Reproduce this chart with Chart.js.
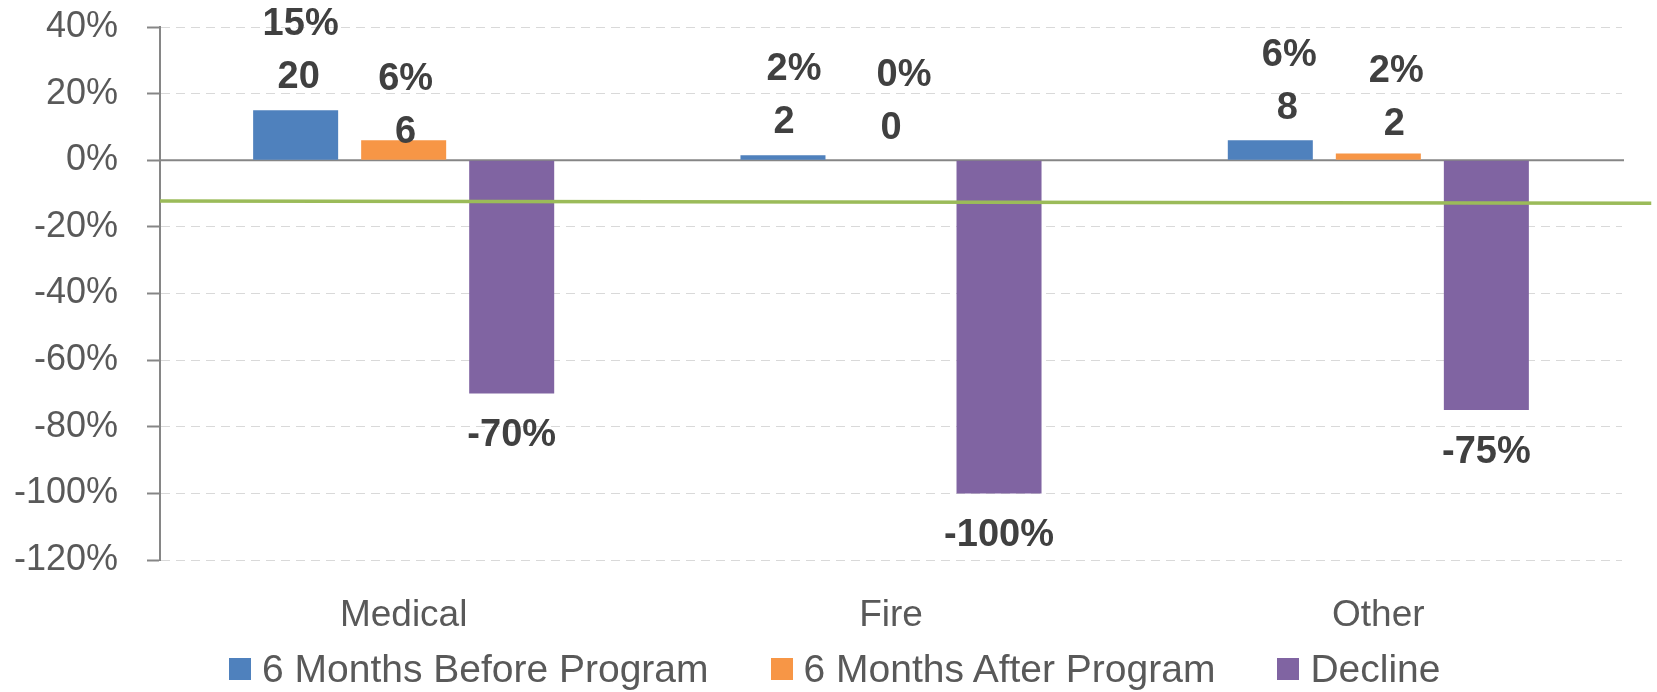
<!DOCTYPE html>
<html>
<head>
<meta charset="utf-8">
<script src="https://cdn.jsdelivr.net/npm/chart.js@4/dist/chart.umd.min.js"></script>
<style>
  html, body { margin: 0; padding: 0; background: #fff; }
  #wrap { position: relative; width: 1657px; height: 692px; }
  #legend {
    position: absolute; left: 229px; top: 646px; height: 46px;
    display: flex; align-items: center;
    font: 39px "Liberation Sans", Arial, sans-serif; color: #595959;
    white-space: nowrap;
  }
  #legend .item { display: flex; align-items: center; margin-right: 62px; }
  #legend .box { width: 22px; height: 22px; margin-right: 11px; }
</style>
</head>
<body>
<div id="wrap">
  <canvas id="chart" width="1657" height="692"></canvas>
  <div id="legend"></div>
</div>
<script>
const categories = ["Medical", "Fire", "Other"];
const seriesNames = ["6 Months Before Program", "6 Months After Program", "Decline"];
const seriesColors = ["#4f81bd", "#f79646", "#8064a2"];

// share of calls (%) and raw counts
const beforePct = [15, 1.5, 6];
const beforeCount = [20, 2, 8];
const afterPct = [6, 0, 2];
const afterCount = [6, 0, 2];
const declinePct = [-70, -100, -75];

// flat green line, runs from the left edge of the plot a bit past the right one
const trendX = [-0.5, 2.56];
const trendY = [-12.2, -12.9];

const yTicks = { min: -120, max: 40, step: 20 };

// label placement: count line sits `lift` px above the bar top, % line 53px above that;
// Excel labels were dragged around a bit, hence the small per-label shifts
const beforeLift = [33, 33, 32];
const afterLift = [8, 32, 29];
const beforeShift = { pct: [5, 11, 19], count: [3, 1, 17] };
const afterShift = { pct: [2, 13, 18], count: [2, 0, 16] };

const FONT = '"Liberation Sans", Arial, sans-serif';
const GRAY_AXIS = "#868686";

const asPoints = (vals) => vals.map((y, i) => ({ x: i, y }));

const zeroLine = {
  id: "zeroLine",
  beforeDatasetsDraw(chart) {
    const { ctx, chartArea } = chart;
    const y0 = chart.scales.y.getPixelForValue(0);
    ctx.save();
    ctx.strokeStyle = GRAY_AXIS;
    ctx.lineWidth = 2;
    ctx.beginPath();
    ctx.moveTo(chartArea.left, y0);
    ctx.lineTo(chartArea.right + 2, y0);
    ctx.stroke();
    ctx.restore();
  },
};

const barLabels = {
  id: "barLabels",
  afterDatasetsDraw(chart) {
    const { ctx } = chart;
    ctx.save();
    ctx.font = "bold 38px " + FONT;
    ctx.fillStyle = "#404040";
    ctx.textAlign = "center";
    ctx.textBaseline = "middle";
    const pairs = [
      [1, beforePct, beforeCount, beforeLift, beforeShift],
      [2, afterPct, afterCount, afterLift, afterShift],
    ];
    pairs.forEach(([di, pct, cnt, lift, shift]) => {
      chart.getDatasetMeta(di).data.forEach((bar, i) => {
        const yCount = bar.y - lift[i];
        ctx.fillText(String(cnt[i]), bar.x + shift.count[i], yCount);
        ctx.fillText(Math.round(pct[i]) + "%", bar.x + shift.pct[i], yCount - 53);
      });
    });
    chart.getDatasetMeta(3).data.forEach((bar, i) => {
      ctx.fillText(declinePct[i] + "%", bar.x, bar.y + 42);
    });
    ctx.restore();
  },
};

new Chart(document.getElementById("chart"), {
  type: "bar",
  data: {
    datasets: [
      {
        type: "line",
        label: "",
        data: trendX.map((x, i) => ({ x, y: trendY[i] })),
        borderColor: "#9bbb59",
        borderWidth: 3.5,
        pointRadius: 0,
        clip: false,
        order: 0,
      },
      { label: seriesNames[0], data: asPoints(beforePct), backgroundColor: seriesColors[0], order: 1 },
      { label: seriesNames[1], data: asPoints(afterPct), backgroundColor: seriesColors[1], order: 1 },
      { label: seriesNames[2], data: asPoints(declinePct), backgroundColor: seriesColors[2], order: 1 },
    ],
  },
  options: {
    responsive: false,
    animation: false,
    events: [],
    layout: { padding: { top: 0, right: 35, bottom: 0, left: 0 } },
    datasets: {
      bar: { categoryPercentage: 0.665, barPercentage: 0.787 },
    },
    plugins: {
      tooltip: { enabled: false },
      legend: { display: false },
    },
    scales: {
      x: {
        type: "linear",
        offset: false,
        min: -0.5,
        max: categories.length - 0.5,
        afterBuildTicks(scale) {
          scale.ticks = categories.map((_, i) => ({ value: i }));
        },
        afterFit(scale) {
          scale.height = 132;
          scale.paddingLeft = 0;
          scale.paddingRight = 0;
        },
        grid: { display: false, drawTicks: false },
        border: { display: false },
        ticks: {
          color: "#595959",
          font: { family: FONT, size: 37 },
          padding: 34,
          callback: (v) => categories[v] ?? "",
        },
      },
      y: {
        min: yTicks.min,
        max: yTicks.max,
        ticks: {
          stepSize: yTicks.step,
          color: "#595959",
          font: { family: FONT, size: 36 },
          padding: 29,
          callback: (v) => v + "%",
        },
        grid: {
          color: "#d9d9d9",
          lineWidth: 1,
          tickColor: GRAY_AXIS,
          tickLength: 13,
          tickWidth: 2,
          tickBorderDash: [],
        },
        border: { color: GRAY_AXIS, width: 2, dash: [9, 6] },
        afterFit(scale) {
          scale.width = 160;
          scale.paddingTop = 27;
          scale.paddingBottom = 0;
        },
      },
    },
  },
  plugins: [zeroLine, barLabels],
});

document.getElementById("legend").innerHTML = seriesNames
  .map((name, i) => `<div class="item"><div class="box" style="background:${seriesColors[i]}"></div><span>${name}</span></div>`)
  .join("");
</script>
</body>
</html>
